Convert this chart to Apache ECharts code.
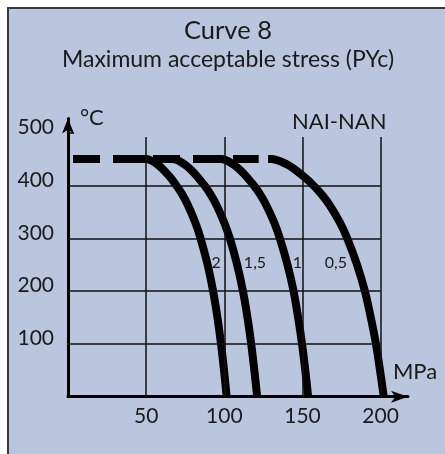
<!DOCTYPE html>
<html>
<head>
<meta charset="utf-8">
<script src="https://cdn.jsdelivr.net/npm/echarts@6/dist/echarts.min.js"></script>
<style>
  html, body { margin: 0; padding: 0; background: #ffffff; }
  #chart { width: 445px; height: 454px; }
</style>
</head>
<body>
<div id="chart"></div>
<script>
// Temperature limit (°C) versus maximum acceptable stress (MPa), one curve per factor
const factorNames = ['2', '1,5', '1', '0,5'];

// [stress MPa, temperature °C]
const curve2 = [[44,450],[50,450],[52.6,448],[55.2,444],[58.0,438],[61.6,428],[65.5,415],[69.3,400],[72.7,385],[76.5,364],[81.4,330],[84.8,300],[89.3,250],[92.8,200],[95.6,150],[97.9,100],[99.8,50],[101.5,0]];
const curve15 = [[60,450],[67,450],[69.7,448],[72.4,444],[75.4,438],[79.2,428],[83.2,415],[87.3,400],[90.8,385],[94.8,364],[99.9,330],[103.5,300],[108.2,250],[111.9,200],[114.8,150],[117.2,100],[119.2,50],[121,0]];
const curve1 = [[96,450],[98,450],[100.8,448],[103.6,444],[106.6,438],[110.5,428],[114.7,415],[118.9,400],[122.5,385],[126.6,364],[131.9,330],[135.5,300],[140.4,250],[144.3,200],[147.2,150],[149.7,100],[151.8,50],[153.6,0]];
const curve05 = [[128,450],[130,450],[133.6,448],[137.2,444],[141.2,438],[146.2,428],[151.6,415],[157,400],[161.7,385],[167.1,364],[173.9,330],[178.6,300],[184.9,250],[189.9,200],[193.7,150],[197,100],[199.6,50],[202,0]];

// Common 450 °C plateau, drawn dashed
const plateau = [[3.2,450],[122,450]];

// Axis ticks and grid
const mpaTicks = [50, 100, 150, 200];
const tempTicks = [100, 200, 300, 400, 500];
const tempGrid = [100, 200, 300, 400];
const gridTopTemp = 492;
const mpaGridEnd = 200;

const FONT = 'Lato';
const INK = '#1a1a1a';

const gridLines = [];
tempGrid.forEach(t => gridLines.push([{ coord: [0, t] }, { coord: [mpaGridEnd, t] }]));
mpaTicks.forEach(m => gridLines.push([{ coord: [m, 0] }, { coord: [m, gridTopTemp] }]));

// Where each factor label sits, in axis units
const labelAt = [[94.7, 253], [119.6, 253], [146.8, 253], [171.4, 253]];

const curves = [curve2, curve15, curve1, curve05];

const series = [
  {
    type: 'line',
    data: [],
    silent: true,
    z: 1,
    markLine: {
      silent: true,
      symbol: 'none',
      label: { show: false },
      lineStyle: { color: '#111', width: 1.5, type: 'solid' },
      data: gridLines
    }
  },
  {
    type: 'line',
    data: plateau,
    showSymbol: false,
    silent: true,
    z: 3,
    lineStyle: { color: '#000', width: 8, type: [27, 13], cap: 'butt' }
  }
];

curves.forEach((c, i) => {
  series.push({
    name: factorNames[i],
    type: 'line',
    data: c,
    smooth: 0.3,
    showSymbol: false,
    silent: true,
    z: 4,
    lineStyle: { color: '#000', width: 8, cap: 'butt', join: 'round' },
    markPoint: {
      symbol: 'circle',
      symbolSize: 0,
      silent: true,
      label: {
        show: true,
        position: 'inside',
        formatter: factorNames[i],
        fontFamily: FONT,
        fontSize: 16,
        color: INK
      },
      data: [{ coord: labelAt[i] }]
    }
  });
});

const chart = echarts.init(document.getElementById('chart'), null, { renderer: 'canvas' });

chart.setOption({
  animation: false,
  backgroundColor: '#ffffff',
  graphic: [{
    type: 'rect',
    z: -100,
    silent: true,
    shape: { x: 8, y: 8, width: 460, height: 470 },
    style: { fill: '#b9c6de', stroke: '#3a3a3a', lineWidth: 2 }
  }],
  title: [
    { text: 'Curve 8', left: 223, top: 13, textAlign: 'center',
      textStyle: { fontFamily: FONT, fontSize: 25.5, fontWeight: 'normal', color: INK } },
    { text: 'Maximum acceptable stress (PYc)', left: 223, top: 43, textAlign: 'center',
      textStyle: { fontFamily: FONT, fontSize: 23, fontWeight: 'normal', color: INK } },
    { text: 'NAI-NAN', left: 287, top: 106,
      textStyle: { fontFamily: FONT, fontSize: 22, fontWeight: 'normal', color: INK } }
  ],
  grid: { left: 68, top: 118.4, width: 340, height: 278.3, containLabel: false },
  xAxis: {
    type: 'value',
    min: 0,
    max: 217.5,
    interval: 50,
    name: 'MPa',
    nameLocation: 'end',
    nameGap: 7,
    nameTextStyle: { fontFamily: FONT, fontSize: 22, color: INK, align: 'center', verticalAlign: 'bottom', padding: [0, 0, 14, 0] },
    axisLine: { show: true, symbol: ['none', 'arrow'], symbolSize: [9, 17], lineStyle: { color: '#000', width: 3 } },
    axisTick: { show: false },
    splitLine: { show: false },
    axisLabel: {
      customValues: mpaTicks,
      margin: 9,
      fontFamily: FONT, fontSize: 21, color: INK
    }
  },
  yAxis: {
    type: 'value',
    min: 0,
    max: 527,
    interval: 100,
    name: '°C',
    nameLocation: 'end',
    nameGap: 0,
    nameTextStyle: { fontFamily: FONT, fontSize: 22, color: INK, align: 'left', verticalAlign: 'middle', padding: [0, 0, 0, 12] },
    axisLine: { show: true, symbol: ['none', 'arrow'], symbolSize: [9, 15], lineStyle: { color: '#000', width: 3 } },
    axisTick: { show: true, inside: true, length: 6, customValues: [500], lineStyle: { color: '#000', width: 1.5 } },
    splitLine: { show: false },
    axisLabel: {
      customValues: tempTicks,
      margin: 14,
      verticalAlign: 'bottom',
      lineHeight: 11,
      fontFamily: FONT, fontSize: 21, color: INK
    }
  },
  series: series
});
</script>
</body>
</html>
